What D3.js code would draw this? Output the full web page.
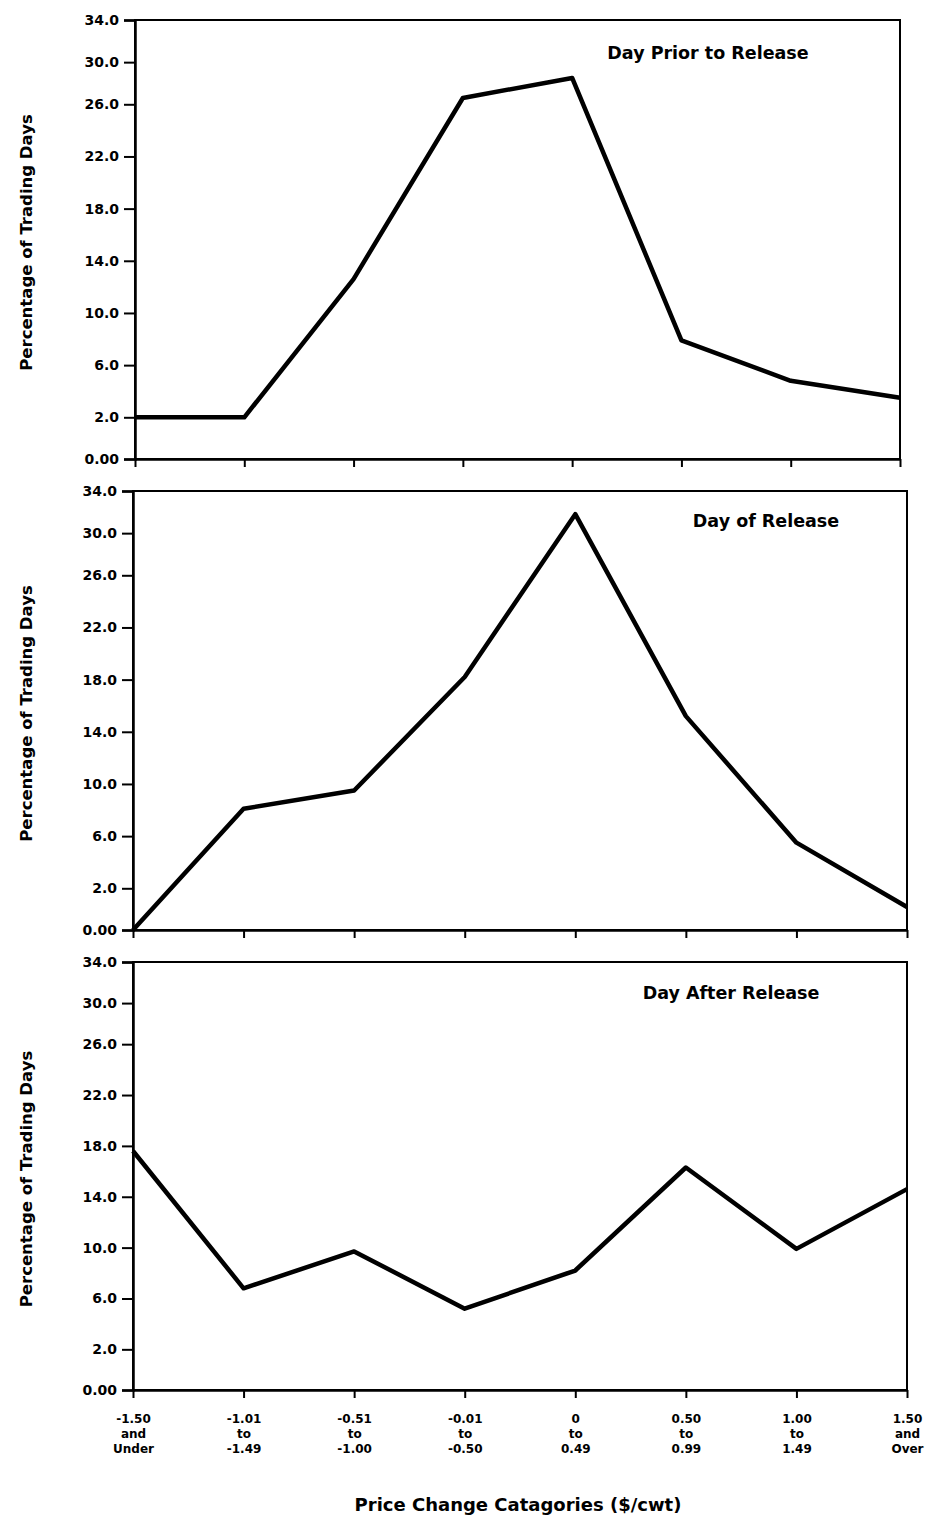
<!DOCTYPE html>
<html>
<head>
<meta charset="utf-8">
<script src="https://cdn.jsdelivr.net/npm/d3@7"></script>
<style>
  body { margin: 0; background: #fff; }
  svg { display: block; }
  text { font-family: "DejaVu Sans", "Liberation Sans", Arial, sans-serif; font-weight: bold; fill: #000; }
  .axis path, .axis line { stroke: #000; }
</style>
</head>
<body>
<svg width="937" height="1524"></svg>
<script>
var categories = ["-1.50\nand\nUnder", "-1.01\nto\n-1.49", "-0.51\nto\n-1.00", "-0.01\nto\n-0.50",
                  "0\nto\n0.49", "0.50\nto\n0.99", "1.00\nto\n1.49", "1.50\nand\nOver"];

var dayPrior   = [2.0, 2.0, 12.6, 26.6, 28.5, 7.9, 4.8, 3.5];
var dayOf      = [0.0, 8.1, 9.5, 18.2, 31.8, 15.2, 5.5, 1.1];
var dayAfter   = [17.6, 6.8, 9.7, 5.2, 8.2, 16.3, 9.9, 14.6];

var panelTitles = ["Day Prior to Release", "Day of Release", "Day After Release"];
var yTicks = [0, 2, 6, 10, 14, 18, 22, 26, 30, 34];
var yTitle = "Percentage of Trading Days";
var xTitle = "Price Change Catagories ($/cwt)";

var series = [dayPrior, dayOf, dayAfter];

// panel boxes
var panels = [
  {top: 20,  h: 439, left: 135, right: 900, titleX: 708, titleY: 39},
  {top: 491, h: 439, left: 133, right: 907, titleX: 766, titleY: 36},
  {top: 962, h: 428, left: 133, right: 907, titleX: 731, titleY: 37}
];

var svg = d3.select("svg");
svg.append("rect").attr("width", 937).attr("height", 1524).attr("fill", "#fff");

var line = d3.line().curve(d3.curveLinear);

panels.forEach(function (p, k) {
  var g = svg.append("g").attr("transform", "translate(0," + p.top + ")");

  var x = d3.scalePoint().domain(categories).range([p.left, p.right]);
  // the printed y ruling is uneven: 0-2 and 26-34 are squeezed
  var y = d3.scaleLinear().domain([0, 2, 26, 34]).range([p.h, p.h * 0.905, p.h * 0.192, 0]);

  // frame (top + right)
  g.append("rect")
    .attr("x", p.left).attr("y", 0)
    .attr("width", p.right - p.left).attr("height", p.h)
    .attr("fill", "none").attr("stroke", "#000").attr("stroke-width", 2);

  var yAxis = d3.axisLeft(y).tickValues(yTicks).tickSize(11).tickPadding(5)
    .tickFormat(function (d) { return d === 0 ? "0.00" : d.toFixed(1); });

  var ya = g.append("g").attr("class", "axis")
    .attr("transform", "translate(" + p.left + ",0)")
    .call(yAxis);
  ya.select(".domain").attr("stroke-width", 2.5);
  ya.selectAll(".tick line").attr("stroke-width", 2);
  ya.selectAll("text").attr("font-size", "14px");

  var xAxis = d3.axisBottom(x).tickSize(8).tickSizeOuter(0).tickFormat("");
  var xa = g.append("g").attr("class", "axis")
    .attr("transform", "translate(0," + p.h + ")")
    .call(xAxis);
  xa.select(".domain").attr("stroke-width", 2.5);
  xa.selectAll(".tick line").attr("stroke-width", 2);

  if (k === panels.length - 1) {
    xa.selectAll(".tick").each(function (d) {
      var t = d3.select(this).append("text")
        .attr("y", 33)
        .attr("text-anchor", "middle")
        .attr("font-size", "12px");
      d.split("\n").forEach(function (s, i) {
        t.append("tspan").attr("x", 0).attr("dy", i === 0 ? 0 : 15).text(s);
      });
    });
  }

  g.append("path")
    .datum(series[k])
    .attr("d", line.x(function (d, i) { return x(categories[i]); }).y(function (d) { return y(d); }))
    .attr("fill", "none")
    .attr("stroke", "#000")
    .attr("stroke-width", 4.5)
    .attr("stroke-linejoin", "round");

  g.append("text")
    .attr("x", p.titleX).attr("y", p.titleY)
    .attr("text-anchor", "middle")
    .attr("font-size", "17.5px")
    .text(panelTitles[k]);

  g.append("text")
    .attr("transform", "translate(32," + (p.h / 2 + 3) + ") rotate(-90)")
    .attr("text-anchor", "middle")
    .attr("font-size", "16.5px")
    .text(yTitle);
});

svg.append("text")
  .attr("x", 518).attr("y", 1511)
  .attr("text-anchor", "middle")
  .attr("font-size", "18px")
  .text(xTitle);
</script>
</body>
</html>
